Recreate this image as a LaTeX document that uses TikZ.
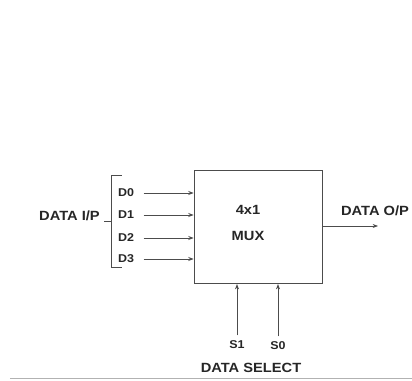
\documentclass[tikz,border=0pt]{standalone}
\usepackage{fontspec}
\setmainfont{Liberation Sans}[FakeStretch=1.1]
\usetikzlibrary{arrows.meta,positioning}

\begin{document}
\begin{tikzpicture}[
    x=0.75pt, y=-0.75pt,
    label/.style={text=black!85, inner sep=1pt, font=\bfseries\fontsize{10}{12}\selectfont},
    pin/.style={text=black!85, inner sep=1pt, font=\bfseries\fontsize{8.5}{10}\selectfont},
    mux/.style={
        rectangle, draw=black!70, line width=0.6pt,
        minimum width=96pt, minimum height=85pt,
        inner sep=0pt
    },
    wire/.style={-{Stealth[length=4pt,width=3pt]}, draw=black!70, line width=0.5pt},
    bracket/.style={draw=black!70, line width=0.6pt}
]
\useasboundingbox (0,0) rectangle (412,381);

\def\xIn{126}
\def\xBr{111}

\node[mux] (mux) at (258,227) {};
\node[label] (size) at (248,210) {4x1};
\node[label] (name) at (248,236) {MUX};

% data inputs
\node[pin] (d0) at (\xIn,193) {D0};
\node[pin] (d1) at (\xIn,215) {D1};
\node[pin] (d2) at (\xIn,238) {D2};
\node[pin] (d3) at (\xIn,259) {D3};

\foreach \d in {d0,d1,d2,d3}
    \draw[wire] ([xshift=6pt]\d.east) -- (\d -| mux.west);

\coordinate (brtop) at (\xBr,175);
\coordinate (brbot) at (\xBr,267);
\coordinate (brmid) at (\xBr,221);
\draw[bracket] ([xshift=8pt]brtop) -- (brtop) -- (brbot) -- ([xshift=8pt]brbot);
\draw[bracket] (brmid) -- ++(-7,0) coordinate (brtip);
\node[label, left=2pt of brtip, yshift=4pt] (din) {DATA I/P};

% output
\coordinate (out) at (378,226);
\draw[wire] (mux.east |- out) -- (out);
\node[label] (dout) at (375,211) {DATA O/P};

% select lines
\node[pin] (s1) at (237,345) {S1};
\node[pin] (s0) at (278,346) {S0};
\draw[wire] ([yshift=3pt]s1.north) -- (s1 |- mux.south);
\draw[wire] ([yshift=3pt]s0.north) -- (s0 |- mux.south);
\node[label] (sel) at (251,368) {DATA SELECT};

\draw[black!30, line width=0.6pt] (10,378) -- (412,378);

\end{tikzpicture}
\end{document}
